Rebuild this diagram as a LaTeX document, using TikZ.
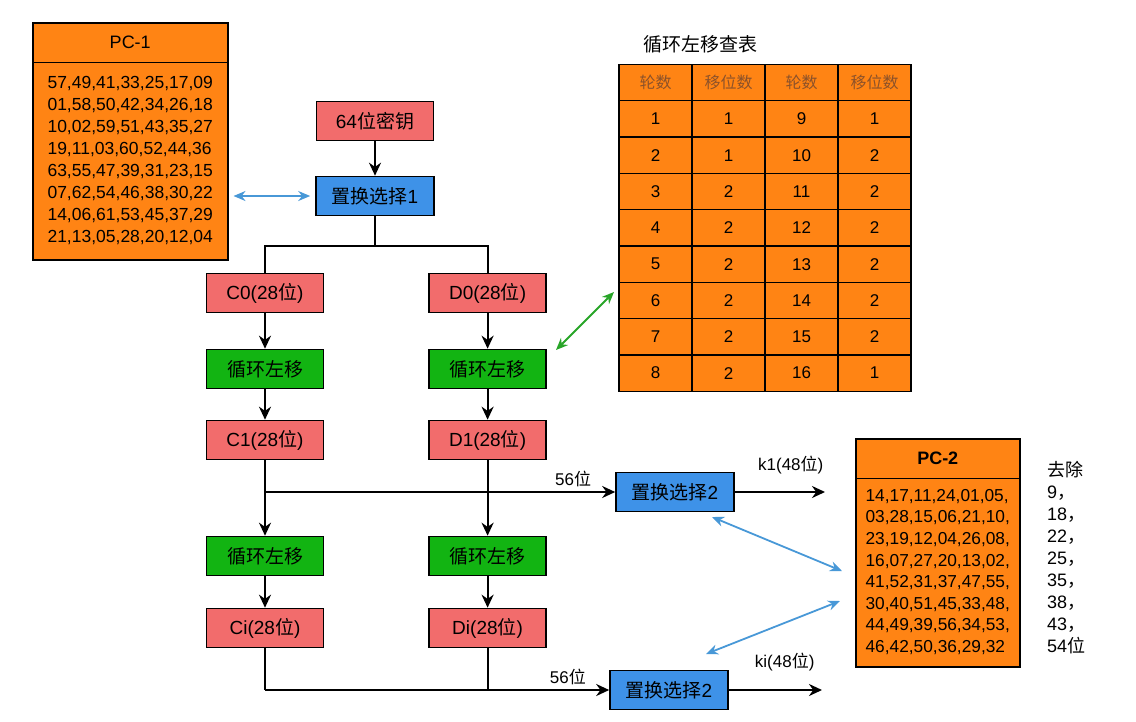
\documentclass[tikz,border=0pt]{standalone}
\usepackage{fontspec}
\setmainfont{Liberation Sans}
\newfontfamily\cjk{Noto Sans CJK SC}
\usetikzlibrary{arrows.meta,shapes.multipart,positioning}
\newcommand{\zh}[1]{{\cjk #1}}
\definecolor{desred}{RGB}{242,108,108}
\definecolor{desgreen}{RGB}{18,180,18}
\definecolor{desblue}{RGB}{62,146,232}
\definecolor{desorange}{RGB}{255,132,20}
\definecolor{linkblue}{RGB}{72,152,215}
\definecolor{linkgreen}{RGB}{40,165,40}
\definecolor{headbrown}{RGB}{140,82,42}
\newlength{\DESColSep}
\setlength{\DESColSep}{104pt}
\tikzset{/DES/box/.style={
	shape=rectangle, draw, line width=1.6pt, minimum width=117pt, minimum height=39pt, inner sep=0pt, font=\fontsize{19}{21}\selectfont
}}
\tikzset{/DES/half/.style={/DES/box, fill=desred}}
\tikzset{/DES/shift/.style={/DES/box, fill=desgreen}}
\tikzset{/DES/perm/.style={/DES/box, fill=desblue, minimum width=118pt}}
\tikzset{/DES/table2/.style={
rectangle split, rectangle split parts=2, draw, line width=1.5pt, fill=desorange, inner sep=0pt, anchor=north west
}}
\tikzset{/DES/cell/.style={rectangle, draw, line width=1.5pt, fill=desorange, minimum width=73pt, minimum height=36.33pt, inner sep=0pt, font=\fontsize{17}{19}\selectfont
}}
\tikzset{/DES/head/.style={text=headbrown, font=\fontsize{16}{18}\selectfont}}
\tikzset{/DES/line/.style={line width=2.2pt}}
\tikzset{/DES/wire/.style={line width=2.2pt, -{Stealth[length=13pt,width=12pt]}}}
\tikzset{/DES/link/.style={line width=1.8pt, {Stealth[length=12pt,width=10pt]}-{Stealth[length=12pt,width=10pt]}}}
\tikzset{/DES/label/.style={inner sep=0pt, font=\fontsize{17}{19}\selectfont}}

\begin{document}
\begin{tikzpicture}[x=1pt, y=-1pt]
\useasboundingbox (0,0) rectangle (1136,721);
% key schedule
\node[/DES/half] (key) at (375,121) {64\zh{位密钥}};
\node[/DES/perm] (pc1sel) at (375,196) {\zh{置换选择}1};
\node[/DES/half] (c0) at (265,293) {C0(28\zh{位})};
\path (c0.east) ++ (\DESColSep, 0) node[anchor=west, /DES/half] (d0) {D0(28\zh{位})};
\node[/DES/shift] (lc1) at (265,369) {\zh{循环左移}};
\path (lc1.east) ++ (\DESColSep, 0) node[anchor=west, /DES/shift] (ld1) {\zh{循环左移}};
\node[/DES/half] (c1) at (265,440) {C1(28\zh{位})};
\path (c1.east) ++ (\DESColSep, 0) node[anchor=west, /DES/half] (d1) {D1(28\zh{位})};
\node[/DES/shift] (lci) at (265,556) {\zh{循环左移}};
\path (lci.east) ++ (\DESColSep, 0) node[anchor=west, /DES/shift] (ldi) {\zh{循环左移}};
\node[/DES/half] (ci) at (265,628) {Ci(28\zh{位})};
\path (ci.east) ++ (\DESColSep, 0) node[anchor=west, /DES/half] (di) {Di(28\zh{位})};
\node[/DES/perm] (pc2a) at (675,492) {\zh{置换选择}2};
\node[/DES/perm] (pc2b) at (669,690) {\zh{置换选择}2};
\coordinate (split) at (375,246);
\coordinate (k1out) at (825,492);
\coordinate (kiout) at (822,690);
\draw[/DES/wire] (key) -- (pc1sel);
\draw[/DES/line] (pc1sel.south) -- (split);
\draw[/DES/line] (split) -| (c0.north);
\draw[/DES/line] (split) -| (d0.north);
\draw[/DES/wire] (c0) -- (lc1);
\draw[/DES/wire] (d0) -- (ld1);
\draw[/DES/wire] (lc1) -- (c1);
\draw[/DES/wire] (ld1) -- (d1);
\draw[/DES/wire] (c1) -- (lci);
\draw[/DES/wire] (d1) -- (ldi);
\draw[/DES/wire] (lci) -- (ci);
\draw[/DES/wire] (ldi) -- (di);
\draw[/DES/wire] (c1 |- pc2a) -- (pc2a.west) node[/DES/label, pos=0.88, above=4pt] {56\zh{位}};
\draw[/DES/line] (ci.south) -- (ci |- pc2b);
\draw[/DES/wire] (ci |- pc2b) -- (pc2b.west) node[/DES/label, pos=0.88, above=4pt] {56\zh{位}};
\draw[/DES/line] (di.south) -- (di |- pc2b);
\draw[/DES/wire] (pc2a.east) -- (k1out) node[/DES/label, pos=0.62, above=17pt] {k1(48\zh{位})};
\draw[/DES/wire] (pc2b.east) -- (kiout) node[/DES/label, pos=0.6, above=18pt] {ki(48\zh{位})};
% PC-1
\node[/DES/table2] (pc1) at (32,22) {\begin{minipage}[c][38pt][c]{195pt}\centering\fontsize{18}{20}\selectfont PC-1\end{minipage}
\nodepart{two}\begin{minipage}[c][196pt][c]{195pt}\centering\fontsize{17.5}{21.9}\selectfont
\begin{tabular}{@{}l@{}}
57,49,41,33,25,17,09\\
01,58,50,42,34,26,18\\
10,02,59,51,43,35,27\\
19,11,03,60,52,44,36\\
63,55,47,39,31,23,15\\
07,62,54,46,38,30,22\\
14,06,61,53,45,37,29\\
21,13,05,28,20,12,04
\end{tabular}\end{minipage}};
\draw[/DES/link, linkblue, shorten <=5pt, shorten >=5pt] (pc1.east |- pc1sel) -- (pc1sel.west);
% shift table
\node[anchor=west, font=\fontsize{19}{21}\selectfont] (tabtitle) at (640,44) {\zh{循环左移查表}};
\path (655.5,82.5) node[/DES/cell, /DES/head] (t-0-1) {\zh{轮数}}
	++ (73,0) node[/DES/cell, /DES/head] (t-0-2) {\zh{移位数}}
	++ (73,0) node[/DES/cell, /DES/head] (t-0-3) {\zh{轮数}}
	++ (73,0) node[/DES/cell, /DES/head] (t-0-4) {\zh{移位数}};
\foreach \ra/\sa/\rb/\sb [count=\row] in {1/1/9/1,2/1/10/2,3/2/11/2,4/2/12/2,5/2/13/2,6/2/14/2,7/2/15/2,8/2/16/1}{
	\path ({655.5},{82.5+36.33*\row}) node[/DES/cell] (t-\row-1) {\ra}
		++ (73,0) node[/DES/cell] (t-\row-2) {\sa}
		++ (73,0) node[/DES/cell] (t-\row-3) {\rb}
		++ (73,0) node[/DES/cell] (t-\row-4) {\sb};
}
\coordinate (shiftA) at (556,350);
\coordinate (shiftB) at (614,292);
\draw[/DES/link, linkgreen] (shiftA) -- (shiftB);
% PC-2
\node[/DES/table2] (pc2) at (855,438) {\begin{minipage}[c][38pt][c]{164pt}\centering\fontsize{18}{20}\selectfont\bfseries PC-2\end{minipage}
\nodepart{two}\begin{minipage}[c][187pt][c]{164pt}\centering\fontsize{17.3}{21.6}\selectfont
\begin{tabular}{@{}l@{}}
14,17,11,24,01,05,\\
03,28,15,06,21,10,\\
23,19,12,04,26,08,\\
16,07,27,20,13,02,\\
41,52,31,37,47,55,\\
30,40,51,45,33,48,\\
44,49,39,56,34,53,\\
46,42,50,36,29,32
\end{tabular}\end{minipage}};
\node[anchor=west, align=left, inner sep=0pt, font=\fontsize{18}{21.9}\selectfont] (drop) at (1047,557.5) {\zh{去除}\\9\zh{，}\\18\zh{，}\\22\zh{，}\\25\zh{，}\\35\zh{，}\\38\zh{，}\\43\zh{，}\\54\zh{位}};
\coordinate (pc2aL) at (712,517);
\coordinate (pc2R1) at (842,571);
\coordinate (pc2bL) at (706,654);
\coordinate (pc2R2) at (840,601);
\draw[/DES/link, linkblue] (pc2aL) -- (pc2R1);
\draw[/DES/link, linkblue] (pc2bL) -- (pc2R2);
\end{tikzpicture}
\end{document}
